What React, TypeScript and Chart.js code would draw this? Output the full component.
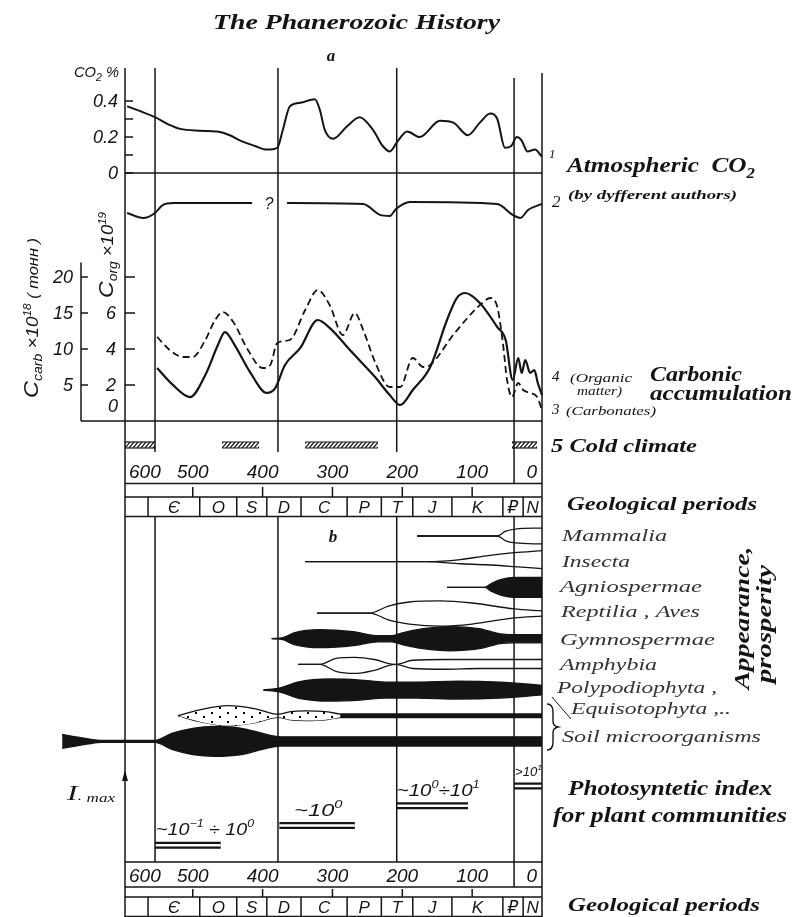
import React, { useEffect, useRef } from "react";
import { Chart, registerables } from "chart.js";

Chart.register(...registerables);

const W = 793;
const H = 917;

// ---------------- data ----------------
const ageTickValues = [600, 500, 400, 300, 200, 100, 0];
const frameAge = 597;
const divisionAges = [554, 378, 208, 40];

const periodLabels = ["", "Є", "O", "S", "D", "C", "P", "T", "J", "K", "₽", "N"];
const periodBounds = [597, 564, 490, 437, 394, 345, 279, 230, 185, 129, 56, 27, 0];

// (a) atmospheric CO2, %
const co2TickValues = [0, 0.1, 0.2, 0.3, 0.4];
const co2TickLabels = ["0", "", "0.2", "", "0.4"];
const co2Ages = [594, 576, 554, 535, 518, 490, 465, 447, 432, 411, 394, 379, 371, 361, 346, 325, 318, 311, 299, 279, 261, 242, 228, 218, 206, 193, 175, 146, 127, 106, 89, 74, 64, 53, 44, 36, 29, 21, 10, 0];
const co2Values = [0.37, 0.345, 0.31, 0.27, 0.245, 0.235, 0.23, 0.21, 0.18, 0.15, 0.13, 0.14, 0.24, 0.37, 0.39, 0.41, 0.35, 0.24, 0.19, 0.26, 0.31, 0.24, 0.15, 0.12, 0.18, 0.23, 0.2, 0.29, 0.28, 0.21, 0.28, 0.33, 0.3, 0.14, 0.15, 0.2, 0.18, 0.12, 0.13, 0.09];

// curve 2 (by different authors), own baseline
const co2AltAges = [594, 571, 554, 543, 528, 415, 390, 365, 256, 232, 218, 209, 189, 64, 42, 31, 20, 0];
const co2AltValues = [0.067, 0.039, 0.067, 0.111, 0.122, 0.122, null, 0.122, 0.117, 0.056, 0.05, 0.089, 0.128, 0.117, 0.056, 0.039, 0.083, 0.117];

// carbon accumulation
const carbTickValues = [5, 10, 15, 20];
const orgTickValues = [2, 4, 6, 8];
const orgTickLabels = ["2", "4", "6", ""];
const orgAges = [551, 530, 504, 482, 464, 454, 440, 418, 394, 382, 368, 346, 321, 304, 275, 239, 218, 203, 185, 160, 136, 122, 110, 89, 64, 52, 42, 34, 29, 24, 17, 11, 6, 0];
const orgValues = [2.94, 2.06, 1.33, 2.56, 4.22, 4.94, 4.22, 2.72, 1.56, 1.83, 3.11, 4.06, 5.61, 5.17, 3.94, 2.44, 1.44, 0.89, 1.72, 3.0, 5.61, 6.83, 7.11, 6.56, 5.22, 4.5, 2.28, 3.5, 2.67, 3.39, 2.67, 2.83, 2.11, 1.44];
const carbAges = [551, 533, 514, 500, 482, 468, 457, 442, 421, 400, 389, 379, 361, 339, 321, 304, 285, 268, 256, 239, 218, 203, 185, 170, 160, 125, 84, 74, 64, 56, 50, 43, 34, 27, 17, 7, 0];
const carbValues = [11.67, 9.86, 8.89, 8.89, 11.25, 14.03, 15.14, 13.75, 9.86, 7.36, 7.78, 10.83, 11.25, 15.42, 18.19, 16.11, 11.94, 15.0, 12.64, 8.19, 4.72, 4.72, 8.75, 7.5, 7.78, 12.22, 16.53, 17.08, 15.83, 10.83, 5.69, 3.33, 5.28, 4.31, 3.89, 3.33, 1.53];

// cold climate intervals (Ma)
const coldStart = [597, 458, 339, 43];
const coldEnd = [554, 405, 235, 7];

// (b) appearance, prosperity (half-widths in row units)
const taxonNames = ["Mammalia", "Insecta", "Agniospermae", "Reptilia , Aves", "Gymnospermae", "Amphybia", "Polypodiophyta ,", "Equisotophyta ,..", "Soil microorganisms"];
const mammaliaAges = [179, 64, 52, 38, 0];
const mammaliaTop = [0, 0, 0.19, 0.27, 0.31];
const mammaliaBot = [0, 0, 0.19, 0.27, 0.31];
const insectaAges = [339, 165, 117, 80, 40, 0];
const insectaTop = [0, 0, 0.08, 0.23, 0.35, 0.43];
const insectaBot = [0, 0, 0.08, 0.12, 0.19, 0.27];
const angioAges = [136, 82, 72, 58, 40, 0];
const angioWidth = [0, 0, 0.16, 0.31, 0.39, 0.39];
const reptiliaAges = [322, 246, 220, 190, 146, 100, 40, 0];
const reptiliaTop = [0, 0, 0.27, 0.43, 0.47, 0.39, 0.16, 0.08];
const reptiliaBot = [0, 0, 0.27, 0.43, 0.51, 0.43, 0.19, 0.12];
const gymnoAges = [387, 371, 355, 318, 270, 235, 215, 200, 170, 132, 90, 60, 40, 0];
const gymnoWidth = [0, 0.04, 0.23, 0.35, 0.27, 0.12, 0.12, 0.23, 0.39, 0.47, 0.39, 0.19, 0.16, 0.16];
const amphybiaAges = [349, 318, 295, 268, 240, 210, 185, 140, 90, 40, 0];
const amphybiaTop = [0, 0, 0.23, 0.27, 0.19, 0, 0.16, 0.19, 0.19, 0.19, 0.19];
const amphybiaBot = [0, 0, 0.27, 0.35, 0.23, 0, 0.16, 0.19, 0.16, 0.16, 0.16];
const polypodAges = [399, 375, 350, 303, 260, 225, 180, 120, 60, 0];
const polypodWidth = [0, 0.08, 0.31, 0.43, 0.39, 0.31, 0.31, 0.35, 0.31, 0.19];
const equisetAges = [521, 490, 450, 410, 378, 360, 339, 310, 289];
const equisetWidth = [0, 0.23, 0.39, 0.27, 0.06, 0.16, 0.19, 0.16, 0.06];
const equisetStemAges = [289, 0];
const equisetStemWidth = [0.07, 0.07];
const soilAges = [687, 670, 650, 630, 554, 530, 500, 468, 430, 400, 375, 300, 200, 100, 0];
const soilWidth = [0.27, 0.19, 0.1, 0.04, 0.04, 0.31, 0.51, 0.58, 0.51, 0.31, 0.18, 0.18, 0.18, 0.18, 0.18];

// photosynthetic index for plant communities (log10 of index)
const piFrom = [554, 376, 208, 40];
const piTo = [460, 268, 106, 0];
const piLevel = [-0.5, 0, 0.5, 1];

// ---------------- layout / style ----------------
const INK = "#141414";
const SERIF = '"Liberation Serif", "DejaVu Serif", serif';
const SANS = '"Liberation Sans", "DejaVu Sans", sans-serif';
const bi = (s: number) => `bold italic ${s}px ${SERIF}`;
const si = (s: number) => `italic ${s}px ${SERIF}`;
const ni = (s: number) => `italic ${s}px ${SANS}`;

const FRAME_PX = 125;
const RIGHT_PX = 542;
const CHART_LEFT = 40;
const CHART_TOP = 60;
const X_MAX = (frameAge * (RIGHT_PX - CHART_LEFT)) / (RIGHT_PX - FRAME_PX);
const CARB_AXIS_PX = 81;
const ROW_LABEL_DY = [5, 5, 5, 4, 6, 6, 3, -2, 1];
const ROW_LABEL_X = [562, 562, 560, 561, 560, 560, 557, 571, 562];
const ROW_LABEL_W = [105, 68, 142, 139, 155, 97, 160, 160, 199];
const PI_DX = [1, 15, 0, 1];

function fitAxis(v1: number, p1: number, v2: number, p2: number, reverse = false) {
  const k = (v2 - v1) / (p2 - p1);
  const vTop = v1 + (CHART_TOP - p1) * k;
  const vBot = v1 + (H - p1) * k;
  return reverse ? { min: vTop, max: vBot, reverse: true } : { min: vBot, max: vTop };
}

type Part = [string, string, number];

function rich(c: any, parts: Part[], x: number, y: number, align = "left", targetW?: number) {
  let w = 0;
  for (const [t, f] of parts) {
    c.font = f;
    w += c.measureText(t).width;
  }
  const sx = targetW ? targetW / w : 1;
  const total = w * sx;
  const x0 = align === "left" ? x : align === "center" ? x - total / 2 : x - total;
  c.save();
  c.translate(x0, y);
  c.scale(sx, 1);
  c.textAlign = "left";
  c.textBaseline = "alphabetic";
  let px = 0;
  for (const [t, f, dy] of parts) {
    c.font = f;
    c.fillText(t, px, dy);
    px += c.measureText(t).width;
  }
  c.restore();
}

function txt(c: any, s: string, x: number, y: number, font: string, align = "left", targetW?: number) {
  rich(c, [[s, font, 0]], x, y, align, targetW);
}

function seg(c: any, x1: number, y1: number, x2: number, y2: number) {
  c.beginPath();
  c.moveTo(x1, y1);
  c.lineTo(x2, y2);
  c.stroke();
}

const decor = {
  id: "decor",
  afterDatasetsDraw(chart: any) {
    const c = chart.ctx;
    const s = chart.scales;
    const X = (a: number) => s.x.getPixelForValue(a);
    const L = X(frameAge);
    const R = X(0);
    c.save();
    c.strokeStyle = INK;
    c.fillStyle = INK;
    c.lineWidth = 1.5;

    // frame
    seg(c, L, 68, L, H);
    seg(c, R, 73, R, H);
    divisionAges.forEach((a, i) => {
      const x = X(a);
      const last = i === divisionAges.length - 1;
      seg(c, x, last ? 78 : 68, x, last ? 483 : 452);
      seg(c, x, 517, x, last ? 887 : 862);
    });

    // CO2 axis
    const yC = (v: number) => s.yCO2.getPixelForValue(v);
    seg(c, L, yC(0), R, yC(0));
    co2TickValues.forEach((v, i) => {
      seg(c, L, yC(v), L + 8, yC(v));
      if (co2TickLabels[i]) txt(c, co2TickLabels[i], L - 7, yC(v) + 6, ni(18), "right");
    });
    rich(c, [["CO", ni(14), 0], ["2", ni(10), 4], [" %", ni(14), 0]], L - 6, 77, "right", 45);
    const yA = (v: number) => s.yAlt.getPixelForValue(v);
    txt(c, "?", X(391), yA(0.122) + 6, ni(16), "center");

    // carbon axes
    const yK = (v: number) => s.yCarb.getPixelForValue(v);
    const yO = (v: number) => s.yOrg.getPixelForValue(v);
    seg(c, CARB_AXIS_PX, yK(0), R, yK(0));
    seg(c, CARB_AXIS_PX, yK(0), CARB_AXIS_PX, yK(22));
    carbTickValues.forEach((v) => {
      seg(c, CARB_AXIS_PX, yK(v), CARB_AXIS_PX + 7, yK(v));
      txt(c, String(v), CARB_AXIS_PX - 8, yK(v) + 6, ni(18), "right");
    });
    orgTickValues.forEach((v, i) => {
      seg(c, L, yO(v), L + 10, yO(v));
      if (orgTickLabels[i]) txt(c, orgTickLabels[i], L - 9, yO(v) + 6, ni(18), "right");
    });
    txt(c, "0", L - 7, yO(0) - 9, ni(18), "right");

    c.save();
    c.translate(38, 318);
    c.rotate(-Math.PI / 2);
    rich(c, [["C", ni(20), 0], ["carb", ni(12), 4], [" ×10", ni(16), 0], ["18", ni(10), -7], [" ( тонн )", ni(14), 0]], 0, 0, "center", 160);
    c.restore();
    c.save();
    c.translate(113, 255);
    c.rotate(-Math.PI / 2);
    rich(c, [["C", ni(20), 0], ["org", ni(12), 4], [" ×10", ni(16), 0], ["19", ni(10), -7]], 0, 0, "center", 86);
    c.restore();

    // cold climate hatches
    coldStart.forEach((a, i) => {
      const x1 = X(a);
      const x2 = X(coldEnd[i]);
      c.lineWidth = 1.2;
      seg(c, x1, 442, x2, 442);
      seg(c, x1, 448, x2, 448);
      c.save();
      c.beginPath();
      c.rect(x1, 442, x2 - x1, 6);
      c.clip();
      for (let x = x1 - 8; x < x2 + 8; x += 4) seg(c, x, 448, x + 5, 442);
      c.restore();
    });
    c.lineWidth = 1.5;

    // age scales and geological periods (two copies)
    const blocks = [
      { num: 478, l1: 483.5, tick: 487, l2: 497, l3: 517 },
      { num: 882, l1: 887, tick: 889, l2: 897, l3: 917 },
    ];
    blocks.forEach((b, k) => {
      if (k === 1) seg(c, L, 862, R, 862);
      seg(c, L, b.l1, R, b.l1);
      seg(c, L, b.l2, R, b.l2);
      seg(c, L, b.l3 - 0.5, R, b.l3 - 0.5);
      ageTickValues.forEach((v) => {
        const x = X(v);
        if (v > 0 && v < 600) seg(c, x, b.tick, x, b.l2);
        const label = String(v);
        c.font = ni(19);
        const w = c.measureText(label).width;
        const cx = Math.min(Math.max(x, L + w / 2 + 4), R - w / 2 - 5);
        txt(c, label, cx, b.num, ni(19), "center");
      });
      for (let i = 0; i < periodLabels.length; i++) {
        const x1 = X(periodBounds[i]);
        const x2 = X(periodBounds[i + 1]);
        if (i > 0) seg(c, x1, b.l2, x1, b.l3);
        if (periodLabels[i]) txt(c, periodLabels[i], (x1 + x2) / 2, b.l3 - 4, ni(17), "center");
      }
    });

    // photosynthetic index labels
    const yP = (v: number) => s.yPI.getPixelForValue(v);
    const piParts: Part[][] = [
      [["~10", ni(16), 0], ["−1", ni(10), -8], [" ÷ 10", ni(16), 0], ["0", ni(10), -8]],
      [["~10", ni(16), 0], ["0", ni(10), -8]],
      [["~10", ni(16), 0], ["0", ni(10), -8], ["÷10", ni(16), 0], ["1", ni(10), -8]],
      [[">10", ni(12), 0], ["1", ni(8), -6]],
    ];
    const piW = [98, 48, 83, 27];
    piFrom.forEach((a, i) => {
      rich(c, piParts[i], X(a) + PI_DX[i], yP(piLevel[i]) - 10, "left", piW[i]);
    });

    // I max arrow
    c.beginPath();
    c.moveTo(L, 770);
    c.lineTo(L - 3, 781);
    c.lineTo(L + 3, 781);
    c.closePath();
    c.fill();
    rich(c, [["I", si(22), 0], [". ", si(13), 0], ["max", si(12), 2]], 67, 800, "left", 48);

    // row labels
    const yR = (v: number) => s.yRows.getPixelForValue(v);
    c.fillStyle = "#333";
    taxonNames.forEach((n, i) => {
      txt(c, n, ROW_LABEL_X[i], yR(i) + ROW_LABEL_DY[i], si(17), "left", ROW_LABEL_W[i]);
    });
    c.fillStyle = INK;
    c.lineWidth = 1;
    seg(c, 552, 697, 571, 719);
    c.lineWidth = 1.4;
    c.beginPath();
    c.moveTo(547, 704);
    c.quadraticCurveTo(553, 704, 553, 712);
    c.lineTo(553, 721);
    c.quadraticCurveTo(553, 726, 558, 727);
    c.quadraticCurveTo(553, 728, 553, 733);
    c.lineTo(553, 742);
    c.quadraticCurveTo(553, 750, 547, 750);
    c.stroke();

    // titles and right-hand captions
    txt(c, "The Phanerozoic History", 213, 29, bi(20), "left", 287);
    txt(c, "a", 331, 61, bi(17), "center");
    txt(c, "b", 333, 542, bi(17), "center");
    txt(c, "1", 549, 158, si(13));
    rich(c, [["Atmospheric  CO", bi(21), 0], ["2", bi(14), 6]], 567, 172, "left", 188);
    txt(c, "2", 552, 207, si(17));
    txt(c, "(by dyfferent authors)", 568, 199, bi(13), "left", 169);
    txt(c, "4", 552, 381, si(15));
    txt(c, "(Organic", 570, 382, si(12), "left", 62);
    txt(c, "matter)", 577, 395, si(12), "left", 45);
    txt(c, "Carbonic", 650, 381, bi(20), "left", 92);
    txt(c, "accumulation", 650, 400, bi(20), "left", 142);
    txt(c, "3", 552, 414, si(15));
    txt(c, "(Carbonates)", 566, 415, si(12), "left", 90);
    txt(c, "5 Cold climate", 551, 452, bi(19), "left", 146);
    txt(c, "Geological periods", 567, 510, bi(19), "left", 190);
    txt(c, "Geological periods", 568, 911, bi(19), "left", 192);
    txt(c, "Photosyntetic index", 568, 795, bi(20), "left", 204);
    txt(c, "for plant communities", 553, 822, bi(20), "left", 234);
    c.save();
    c.translate(749, 618);
    c.rotate(-Math.PI / 2);
    txt(c, "Appearance,", 0, 0, bi(21), "center", 143);
    c.restore();
    c.save();
    c.translate(771, 624);
    c.rotate(-Math.PI / 2);
    txt(c, "prosperity", 0, 0, bi(21), "center", 118);
    c.restore();

    c.restore();
  },
};

function pts(ages: number[], vals: (number | null)[]) {
  return ages.map((a, i) => ({ x: a, y: vals[i] }));
}

function spindle(ages: number[], top: number[], bot: number[], row: number, kind: string, dots: any) {
  const common = {
    yAxisID: "yRows",
    pointRadius: 0,
    borderColor: INK,
    borderWidth: 1.3,
    cubicInterpolationMode: "monotone",
    clip: false,
    order: 1,
  };
  const bg = kind === "solid" ? INK : kind === "dots" ? dots : "rgba(0,0,0,0)";
  return [
    { ...common, data: ages.map((a, i) => ({ x: a, y: row - top[i] })), fill: kind === "open" ? false : "+1", backgroundColor: bg },
    { ...common, data: ages.map((a, i) => ({ x: a, y: row + bot[i] })), fill: false, backgroundColor: bg },
  ];
}

export default function App() {
  const ref = useRef<HTMLCanvasElement>(null);
  useEffect(() => {
    const canvas = ref.current as HTMLCanvasElement;
    const ctx = canvas.getContext("2d") as CanvasRenderingContext2D;
    const tile = document.createElement("canvas");
    tile.width = 16;
    tile.height = 9;
    const g = tile.getContext("2d") as CanvasRenderingContext2D;
    g.fillStyle = "#fff";
    g.fillRect(0, 0, 16, 9);
    g.fillStyle = "#000";
    g.fillRect(3, 1, 2, 2);
    g.fillRect(11, 5, 2, 2);
    const dots = ctx.createPattern(tile, "repeat");

    const curve = { pointRadius: 0, borderColor: INK, fill: false, clip: false, cubicInterpolationMode: "monotone", order: 1 };
    const piSegs: any[] = [];
    piFrom.forEach((a, i) => {
      piSegs.push({ x: a, y: piLevel[i] }, { x: piTo[i], y: piLevel[i] }, { x: piTo[i] - 1, y: null });
    });

    const datasets: any[] = [
      { ...curve, data: pts(co2Ages, co2Values), yAxisID: "yCO2", borderWidth: 2 },
      { ...curve, data: pts(co2AltAges, co2AltValues), yAxisID: "yAlt", borderWidth: 2 },
      { ...curve, data: pts(orgAges, orgValues), yAxisID: "yOrg", borderWidth: 2.2 },
      { ...curve, data: pts(carbAges, carbValues), yAxisID: "yCarb", borderWidth: 1.8, borderDash: [7, 4] },
      ...spindle(mammaliaAges, mammaliaTop, mammaliaBot, 0, "open", dots),
      ...spindle(insectaAges, insectaTop, insectaBot, 1, "open", dots),
      ...spindle(angioAges, angioWidth, angioWidth, 2, "solid", dots),
      ...spindle(reptiliaAges, reptiliaTop, reptiliaBot, 3, "open", dots),
      ...spindle(gymnoAges, gymnoWidth, gymnoWidth, 4, "solid", dots),
      ...spindle(amphybiaAges, amphybiaTop, amphybiaBot, 5, "open", dots),
      ...spindle(polypodAges, polypodWidth, polypodWidth, 6, "solid", dots),
      ...spindle(equisetAges, equisetWidth, equisetWidth, 7, "dots", dots),
      ...spindle(equisetStemAges, equisetStemWidth, equisetStemWidth, 7, "solid", dots),
      ...spindle(soilAges, soilWidth, soilWidth, 8, "solid", dots),
      { data: piSegs, yAxisID: "yPI", pointRadius: 0, borderColor: INK, borderWidth: 7, fill: false, clip: false, tension: 0, order: 1 },
      { data: piSegs, yAxisID: "yPI", pointRadius: 0, borderColor: "#ffffff", borderWidth: 2.6, fill: false, clip: false, tension: 0, order: 0 },
    ];

    const hidden = { type: "linear", display: false };
    const chart = new Chart(canvas, {
      type: "line",
      data: { datasets },
      plugins: [decor],
      options: {
        responsive: false,
        animation: false,
        devicePixelRatio: 1,
        events: [],
        layout: { padding: { left: CHART_LEFT, right: W - RIGHT_PX, top: CHART_TOP, bottom: 0 }, autoPadding: false },
        plugins: { legend: { display: false }, tooltip: { enabled: false }, title: { display: false } },
        elements: { point: { radius: 0 }, line: { capBezierPoints: false } },
        scales: {
          x: { type: "linear", display: false, min: 0, max: X_MAX, reverse: true },
          yCO2: { ...hidden, ...fitAxis(0, 173, 0.4, 101) },
          yAlt: { ...hidden, ...fitAxis(0, 225, 0.1, 207) },
          yCarb: { ...hidden, ...fitAxis(0, 421, 20, 277) },
          yOrg: { ...hidden, ...fitAxis(0, 421, 8, 277) },
          yRows: { ...hidden, ...fitAxis(0, 536, 8, 741.4, true) },
          yPI: { ...hidden, ...fitAxis(0, 825.5, 1, 786) },
        },
      } as any,
    } as any);
    let alive = true;
    const fonts = [bi(20), si(17), ni(16)];
    if ((document as any).fonts) {
      Promise.all(fonts.map((f) => (document as any).fonts.load(f)))
        .then(() => {
          if (alive) chart.draw();
        })
        .catch(() => {});
    }
    return () => {
      alive = false;
      chart.destroy();
    };
  }, []);

  return (
    <div style={{ position: "absolute", left: 0, top: 0, width: W, height: H, background: "#fff" }}>
      <canvas ref={ref} width={W} height={H} style={{ display: "block", width: W, height: H }} />
    </div>
  );
}
